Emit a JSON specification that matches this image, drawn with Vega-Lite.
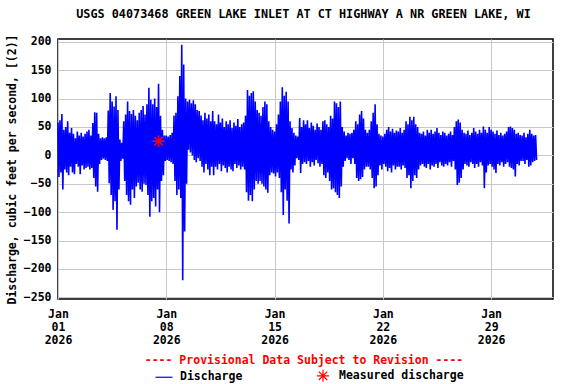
{
"$schema":"https://vega.github.io/schema/vega-lite/v6.json",
"width":495,"height":260,
"autosize":{"type":"none"},
"padding":{"left":58,"top":39,"right":23,"bottom":85},
"background":"white",
"config":{
"font":"DejaVu Sans Mono",
"view":{"stroke":"black","strokeWidth":1.5},
"axis":{"labelFont":"DejaVu Sans Mono","labelFontWeight":"bold","labelFontSize":11.5,"labelColor":"black","titleFont":"DejaVu Sans Mono","titleFontWeight":"bold","titleFontSize":11.5,"titleColor":"black","gridColor":"#c8c8c8","gridWidth":1,"gridOpacity":1,"domain":false,"ticks":false,"labelFlush":false,"labelOverlap":false}
},
"title":{"text":"USGS 04073468 GREEN LAKE INLET AT CT HIGHWAY A NR GREEN LAKE, WI","font":"DejaVu Sans Mono","fontSize":11.8,"fontWeight":"bold","color":"black","anchor":"middle","offset":13,"dx":-2},
"layer":[
{"data":{"values":[
{"t":"2026-01-01T00:00","q":58},{"t":"2026-01-01T01:30","q":-38},{"t":"2026-01-01T03:00","q":62},{"t":"2026-01-01T04:30","q":-30},{"t":"2026-01-01T06:00","q":73},{"t":"2026-01-01T07:30","q":-60},{"t":"2026-01-01T09:00","q":45},{"t":"2026-01-01T10:30","q":-25},{"t":"2026-01-01T12:00","q":50},{"t":"2026-01-01T13:30","q":-30},{"t":"2026-01-01T15:00","q":60},{"t":"2026-01-01T16:30","q":-35},{"t":"2026-01-01T18:00","q":40},{"t":"2026-01-01T19:30","q":-20},{"t":"2026-01-01T21:00","q":48},{"t":"2026-01-01T22:30","q":-30},
{"t":"2026-01-02T00:00","q":38},{"t":"2026-01-02T01:30","q":-33},{"t":"2026-01-02T03:00","q":30},{"t":"2026-01-02T04:30","q":-15},{"t":"2026-01-02T06:00","q":42},{"t":"2026-01-02T07:30","q":-20},{"t":"2026-01-02T09:00","q":35},{"t":"2026-01-02T10:30","q":-33},{"t":"2026-01-02T12:00","q":40},{"t":"2026-01-02T13:30","q":-18},{"t":"2026-01-02T15:00","q":33},{"t":"2026-01-02T16:30","q":-25},{"t":"2026-01-02T18:00","q":38},{"t":"2026-01-02T19:30","q":-22},{"t":"2026-01-02T21:00","q":42},{"t":"2026-01-02T22:30","q":-20},
{"t":"2026-01-03T00:00","q":45},{"t":"2026-01-03T01:30","q":-25},{"t":"2026-01-03T03:00","q":35},{"t":"2026-01-03T04:30","q":-22},{"t":"2026-01-03T06:00","q":57},{"t":"2026-01-03T07:30","q":-40},{"t":"2026-01-03T09:00","q":76},{"t":"2026-01-03T10:30","q":-55},{"t":"2026-01-03T12:00","q":75},{"t":"2026-01-03T13:30","q":-64},{"t":"2026-01-03T15:00","q":38},{"t":"2026-01-03T16:30","q":-15},{"t":"2026-01-03T18:00","q":30},{"t":"2026-01-03T19:30","q":-8},{"t":"2026-01-03T21:00","q":32},{"t":"2026-01-03T22:30","q":-6},
{"t":"2026-01-04T00:00","q":30},{"t":"2026-01-04T01:30","q":-8},{"t":"2026-01-04T03:00","q":32},{"t":"2026-01-04T04:30","q":-10},{"t":"2026-01-04T06:00","q":79},{"t":"2026-01-04T07:30","q":-49},{"t":"2026-01-04T09:00","q":110},{"t":"2026-01-04T10:30","q":-70},{"t":"2026-01-04T12:00","q":95},{"t":"2026-01-04T13:30","q":-96},{"t":"2026-01-04T15:00","q":86},{"t":"2026-01-04T16:30","q":-81},{"t":"2026-01-04T18:00","q":104},{"t":"2026-01-04T19:30","q":-131},{"t":"2026-01-04T21:00","q":80},{"t":"2026-01-04T22:30","q":-60},
{"t":"2026-01-05T00:00","q":28},{"t":"2026-01-05T01:30","q":-10},{"t":"2026-01-05T03:00","q":22},{"t":"2026-01-05T04:30","q":-6},{"t":"2026-01-05T06:00","q":60},{"t":"2026-01-05T07:30","q":-45},{"t":"2026-01-05T09:00","q":72},{"t":"2026-01-05T10:30","q":-70},{"t":"2026-01-05T12:00","q":95},{"t":"2026-01-05T13:30","q":-81},{"t":"2026-01-05T15:00","q":78},{"t":"2026-01-05T16:30","q":-87},{"t":"2026-01-05T18:00","q":73},{"t":"2026-01-05T19:30","q":-60},{"t":"2026-01-05T21:00","q":80},{"t":"2026-01-05T22:30","q":-75},
{"t":"2026-01-06T00:00","q":70},{"t":"2026-01-06T01:30","q":-55},{"t":"2026-01-06T03:00","q":62},{"t":"2026-01-06T04:30","q":-48},{"t":"2026-01-06T06:00","q":75},{"t":"2026-01-06T07:30","q":-60},{"t":"2026-01-06T09:00","q":80},{"t":"2026-01-06T10:30","q":-64},{"t":"2026-01-06T12:00","q":87},{"t":"2026-01-06T13:30","q":-50},{"t":"2026-01-06T15:00","q":72},{"t":"2026-01-06T16:30","q":-52},{"t":"2026-01-06T18:00","q":90},{"t":"2026-01-06T19:30","q":-70},{"t":"2026-01-06T21:00","q":119},{"t":"2026-01-06T22:30","q":-108},
{"t":"2026-01-07T00:00","q":98},{"t":"2026-01-07T01:30","q":-81},{"t":"2026-01-07T03:00","q":90},{"t":"2026-01-07T04:30","q":-75},{"t":"2026-01-07T06:00","q":100},{"t":"2026-01-07T07:30","q":-90},{"t":"2026-01-07T09:00","q":85},{"t":"2026-01-07T10:30","q":-60},{"t":"2026-01-07T12:00","q":126},{"t":"2026-01-07T13:30","q":-100},{"t":"2026-01-07T15:00","q":70},{"t":"2026-01-07T16:30","q":-45},{"t":"2026-01-07T18:00","q":45},{"t":"2026-01-07T19:30","q":-35},{"t":"2026-01-07T21:00","q":35},{"t":"2026-01-07T22:30","q":-10},
{"t":"2026-01-08T00:00","q":35},{"t":"2026-01-08T01:30","q":-8},{"t":"2026-01-08T03:00","q":33},{"t":"2026-01-08T04:30","q":-10},{"t":"2026-01-08T06:00","q":36},{"t":"2026-01-08T07:30","q":-12},{"t":"2026-01-08T09:00","q":40},{"t":"2026-01-08T10:30","q":-15},{"t":"2026-01-08T12:00","q":70},{"t":"2026-01-08T13:30","q":-45},{"t":"2026-01-08T15:00","q":75},{"t":"2026-01-08T16:30","q":-70},{"t":"2026-01-08T18:00","q":104},{"t":"2026-01-08T19:30","q":-60},{"t":"2026-01-08T21:00","q":140},{"t":"2026-01-08T22:30","q":-75},
{"t":"2026-01-09T00:00","q":195},{"t":"2026-01-09T01:30","q":-220},{"t":"2026-01-09T03:00","q":160},{"t":"2026-01-09T04:30","q":-134},{"t":"2026-01-09T06:00","q":100},{"t":"2026-01-09T07:30","q":-50},{"t":"2026-01-09T09:00","q":95},{"t":"2026-01-09T10:30","q":10},{"t":"2026-01-09T12:00","q":98},{"t":"2026-01-09T13:30","q":5},{"t":"2026-01-09T15:00","q":92},{"t":"2026-01-09T16:30","q":0},{"t":"2026-01-09T18:00","q":97},{"t":"2026-01-09T19:30","q":-8},{"t":"2026-01-09T21:00","q":90},{"t":"2026-01-09T22:30","q":-12},
{"t":"2026-01-10T00:00","q":80},{"t":"2026-01-10T01:30","q":-5},{"t":"2026-01-10T03:00","q":78},{"t":"2026-01-10T04:30","q":-10},{"t":"2026-01-10T06:00","q":70},{"t":"2026-01-10T07:30","q":-20},{"t":"2026-01-10T09:00","q":62},{"t":"2026-01-10T10:30","q":-30},{"t":"2026-01-10T12:00","q":75},{"t":"2026-01-10T13:30","q":-15},{"t":"2026-01-10T15:00","q":65},{"t":"2026-01-10T16:30","q":-25},{"t":"2026-01-10T18:00","q":72},{"t":"2026-01-10T19:30","q":-35},{"t":"2026-01-10T21:00","q":60},{"t":"2026-01-10T22:30","q":-20},
{"t":"2026-01-11T00:00","q":78},{"t":"2026-01-11T01:30","q":-35},{"t":"2026-01-11T03:00","q":60},{"t":"2026-01-11T04:30","q":-20},{"t":"2026-01-11T06:00","q":55},{"t":"2026-01-11T07:30","q":-25},{"t":"2026-01-11T09:00","q":72},{"t":"2026-01-11T10:30","q":-15},{"t":"2026-01-11T12:00","q":58},{"t":"2026-01-11T13:30","q":-28},{"t":"2026-01-11T15:00","q":65},{"t":"2026-01-11T16:30","q":-18},{"t":"2026-01-11T18:00","q":50},{"t":"2026-01-11T19:30","q":-22},{"t":"2026-01-11T21:00","q":60},{"t":"2026-01-11T22:30","q":-30},
{"t":"2026-01-12T00:00","q":55},{"t":"2026-01-12T01:30","q":-20},{"t":"2026-01-12T03:00","q":62},{"t":"2026-01-12T04:30","q":-25},{"t":"2026-01-12T06:00","q":48},{"t":"2026-01-12T07:30","q":-28},{"t":"2026-01-12T09:00","q":58},{"t":"2026-01-12T10:30","q":-15},{"t":"2026-01-12T12:00","q":52},{"t":"2026-01-12T13:30","q":-22},{"t":"2026-01-12T15:00","q":64},{"t":"2026-01-12T16:30","q":-18},{"t":"2026-01-12T18:00","q":50},{"t":"2026-01-12T19:30","q":-25},{"t":"2026-01-12T21:00","q":55},{"t":"2026-01-12T22:30","q":-20},
{"t":"2026-01-13T00:00","q":58},{"t":"2026-01-13T01:30","q":-25},{"t":"2026-01-13T03:00","q":70},{"t":"2026-01-13T04:30","q":-65},{"t":"2026-01-13T06:00","q":115},{"t":"2026-01-13T07:30","q":-80},{"t":"2026-01-13T09:00","q":105},{"t":"2026-01-13T10:30","q":-70},{"t":"2026-01-13T12:00","q":110},{"t":"2026-01-13T13:30","q":-81},{"t":"2026-01-13T15:00","q":113},{"t":"2026-01-13T16:30","q":-60},{"t":"2026-01-13T18:00","q":95},{"t":"2026-01-13T19:30","q":-45},{"t":"2026-01-13T21:00","q":80},{"t":"2026-01-13T22:30","q":-50},
{"t":"2026-01-14T00:00","q":75},{"t":"2026-01-14T01:30","q":-45},{"t":"2026-01-14T03:00","q":70},{"t":"2026-01-14T04:30","q":-50},{"t":"2026-01-14T06:00","q":85},{"t":"2026-01-14T07:30","q":-55},{"t":"2026-01-14T09:00","q":95},{"t":"2026-01-14T10:30","q":-60},{"t":"2026-01-14T12:00","q":90},{"t":"2026-01-14T13:30","q":-66},{"t":"2026-01-14T15:00","q":60},{"t":"2026-01-14T16:30","q":-35},{"t":"2026-01-14T18:00","q":50},{"t":"2026-01-14T19:30","q":-30},{"t":"2026-01-14T21:00","q":45},{"t":"2026-01-14T22:30","q":-32},
{"t":"2026-01-15T00:00","q":42},{"t":"2026-01-15T01:30","q":-37},{"t":"2026-01-15T03:00","q":55},{"t":"2026-01-15T04:30","q":-30},{"t":"2026-01-15T06:00","q":72},{"t":"2026-01-15T07:30","q":-40},{"t":"2026-01-15T09:00","q":95},{"t":"2026-01-15T10:30","q":-65},{"t":"2026-01-15T12:00","q":120},{"t":"2026-01-15T13:30","q":-105},{"t":"2026-01-15T15:00","q":105},{"t":"2026-01-15T16:30","q":-60},{"t":"2026-01-15T18:00","q":112},{"t":"2026-01-15T19:30","q":-80},{"t":"2026-01-15T21:00","q":95},{"t":"2026-01-15T22:30","q":-120},
{"t":"2026-01-16T00:00","q":60},{"t":"2026-01-16T01:30","q":-25},{"t":"2026-01-16T03:00","q":48},{"t":"2026-01-16T04:30","q":-30},{"t":"2026-01-16T06:00","q":40},{"t":"2026-01-16T07:30","q":-18},{"t":"2026-01-16T09:00","q":35},{"t":"2026-01-16T10:30","q":-5},{"t":"2026-01-16T12:00","q":33},{"t":"2026-01-16T13:30","q":-8},{"t":"2026-01-16T15:00","q":66},{"t":"2026-01-16T16:30","q":-31},{"t":"2026-01-16T18:00","q":50},{"t":"2026-01-16T19:30","q":-15},{"t":"2026-01-16T21:00","q":62},{"t":"2026-01-16T22:30","q":-12},
{"t":"2026-01-17T00:00","q":55},{"t":"2026-01-17T01:30","q":-15},{"t":"2026-01-17T03:00","q":62},{"t":"2026-01-17T04:30","q":-10},{"t":"2026-01-17T06:00","q":48},{"t":"2026-01-17T07:30","q":-20},{"t":"2026-01-17T09:00","q":58},{"t":"2026-01-17T10:30","q":-12},{"t":"2026-01-17T12:00","q":52},{"t":"2026-01-17T13:30","q":-18},{"t":"2026-01-17T15:00","q":45},{"t":"2026-01-17T16:30","q":-8},{"t":"2026-01-17T18:00","q":56},{"t":"2026-01-17T19:30","q":-14},{"t":"2026-01-17T21:00","q":50},{"t":"2026-01-17T22:30","q":-20},
{"t":"2026-01-18T00:00","q":45},{"t":"2026-01-18T01:30","q":-15},{"t":"2026-01-18T03:00","q":60},{"t":"2026-01-18T04:30","q":-35},{"t":"2026-01-18T06:00","q":62},{"t":"2026-01-18T07:30","q":-40},{"t":"2026-01-18T09:00","q":55},{"t":"2026-01-18T10:30","q":-30},{"t":"2026-01-18T12:00","q":50},{"t":"2026-01-18T13:30","q":-45},{"t":"2026-01-18T15:00","q":70},{"t":"2026-01-18T16:30","q":-60},{"t":"2026-01-18T18:00","q":65},{"t":"2026-01-18T19:30","q":-58},{"t":"2026-01-18T21:00","q":95},{"t":"2026-01-18T22:30","q":-65},
{"t":"2026-01-19T00:00","q":92},{"t":"2026-01-19T01:30","q":-70},{"t":"2026-01-19T03:00","q":85},{"t":"2026-01-19T04:30","q":-75},{"t":"2026-01-19T06:00","q":95},{"t":"2026-01-19T07:30","q":-55},{"t":"2026-01-19T09:00","q":50},{"t":"2026-01-19T10:30","q":-20},{"t":"2026-01-19T12:00","q":42},{"t":"2026-01-19T13:30","q":-10},{"t":"2026-01-19T15:00","q":35},{"t":"2026-01-19T16:30","q":-5},{"t":"2026-01-19T18:00","q":40},{"t":"2026-01-19T19:30","q":-8},{"t":"2026-01-19T21:00","q":38},{"t":"2026-01-19T22:30","q":-15},
{"t":"2026-01-20T00:00","q":40},{"t":"2026-01-20T01:30","q":-5},{"t":"2026-01-20T03:00","q":45},{"t":"2026-01-20T04:30","q":-15},{"t":"2026-01-20T06:00","q":60},{"t":"2026-01-20T07:30","q":-40},{"t":"2026-01-20T09:00","q":55},{"t":"2026-01-20T10:30","q":-45},{"t":"2026-01-20T12:00","q":72},{"t":"2026-01-20T13:30","q":-42},{"t":"2026-01-20T15:00","q":78},{"t":"2026-01-20T16:30","q":-38},{"t":"2026-01-20T18:00","q":65},{"t":"2026-01-20T19:30","q":-25},{"t":"2026-01-20T21:00","q":45},{"t":"2026-01-20T22:30","q":-20},
{"t":"2026-01-21T00:00","q":40},{"t":"2026-01-21T01:30","q":-20},{"t":"2026-01-21T03:00","q":45},{"t":"2026-01-21T04:30","q":-25},{"t":"2026-01-21T06:00","q":60},{"t":"2026-01-21T07:30","q":-40},{"t":"2026-01-21T09:00","q":75},{"t":"2026-01-21T10:30","q":-58},{"t":"2026-01-21T12:00","q":90},{"t":"2026-01-21T13:30","q":-55},{"t":"2026-01-21T15:00","q":55},{"t":"2026-01-21T16:30","q":-35},{"t":"2026-01-21T18:00","q":38},{"t":"2026-01-21T19:30","q":-18},{"t":"2026-01-21T21:00","q":35},{"t":"2026-01-21T22:30","q":-25},
{"t":"2026-01-22T00:00","q":33},{"t":"2026-01-22T01:30","q":-15},{"t":"2026-01-22T03:00","q":38},{"t":"2026-01-22T04:30","q":-20},{"t":"2026-01-22T06:00","q":45},{"t":"2026-01-22T07:30","q":-28},{"t":"2026-01-22T09:00","q":50},{"t":"2026-01-22T10:30","q":-22},{"t":"2026-01-22T12:00","q":42},{"t":"2026-01-22T13:30","q":-30},{"t":"2026-01-22T15:00","q":47},{"t":"2026-01-22T16:30","q":-18},{"t":"2026-01-22T18:00","q":40},{"t":"2026-01-22T19:30","q":-25},{"t":"2026-01-22T21:00","q":44},{"t":"2026-01-22T22:30","q":-20},
{"t":"2026-01-23T00:00","q":42},{"t":"2026-01-23T01:30","q":-20},{"t":"2026-01-23T03:00","q":48},{"t":"2026-01-23T04:30","q":-25},{"t":"2026-01-23T06:00","q":40},{"t":"2026-01-23T07:30","q":-18},{"t":"2026-01-23T09:00","q":45},{"t":"2026-01-23T10:30","q":-22},{"t":"2026-01-23T12:00","q":60},{"t":"2026-01-23T13:30","q":-40},{"t":"2026-01-23T15:00","q":55},{"t":"2026-01-23T16:30","q":-35},{"t":"2026-01-23T18:00","q":68},{"t":"2026-01-23T19:30","q":-58},{"t":"2026-01-23T21:00","q":62},{"t":"2026-01-23T22:30","q":-45},
{"t":"2026-01-24T00:00","q":68},{"t":"2026-01-24T01:30","q":-35},{"t":"2026-01-24T03:00","q":55},{"t":"2026-01-24T04:30","q":-40},{"t":"2026-01-24T06:00","q":50},{"t":"2026-01-24T07:30","q":-25},{"t":"2026-01-24T09:00","q":40},{"t":"2026-01-24T10:30","q":-18},{"t":"2026-01-24T12:00","q":38},{"t":"2026-01-24T13:30","q":-15},{"t":"2026-01-24T15:00","q":42},{"t":"2026-01-24T16:30","q":-20},{"t":"2026-01-24T18:00","q":35},{"t":"2026-01-24T19:30","q":-22},{"t":"2026-01-24T21:00","q":45},{"t":"2026-01-24T22:30","q":-15},
{"t":"2026-01-25T00:00","q":40},{"t":"2026-01-25T01:30","q":-25},{"t":"2026-01-25T03:00","q":45},{"t":"2026-01-25T04:30","q":-18},{"t":"2026-01-25T06:00","q":38},{"t":"2026-01-25T07:30","q":-20},{"t":"2026-01-25T09:00","q":42},{"t":"2026-01-25T10:30","q":-15},{"t":"2026-01-25T12:00","q":48},{"t":"2026-01-25T13:30","q":-22},{"t":"2026-01-25T15:00","q":40},{"t":"2026-01-25T16:30","q":-12},{"t":"2026-01-25T18:00","q":36},{"t":"2026-01-25T19:30","q":-18},{"t":"2026-01-25T21:00","q":42},{"t":"2026-01-25T22:30","q":-20},
{"t":"2026-01-26T00:00","q":40},{"t":"2026-01-26T01:30","q":-15},{"t":"2026-01-26T03:00","q":35},{"t":"2026-01-26T04:30","q":-18},{"t":"2026-01-26T06:00","q":38},{"t":"2026-01-26T07:30","q":-12},{"t":"2026-01-26T09:00","q":42},{"t":"2026-01-26T10:30","q":-20},{"t":"2026-01-26T12:00","q":36},{"t":"2026-01-26T13:30","q":-10},{"t":"2026-01-26T15:00","q":50},{"t":"2026-01-26T16:30","q":-25},{"t":"2026-01-26T18:00","q":60},{"t":"2026-01-26T19:30","q":-52},{"t":"2026-01-26T21:00","q":63},{"t":"2026-01-26T22:30","q":-48},
{"t":"2026-01-27T00:00","q":58},{"t":"2026-01-27T01:30","q":-40},{"t":"2026-01-27T03:00","q":45},{"t":"2026-01-27T04:30","q":-25},{"t":"2026-01-27T06:00","q":40},{"t":"2026-01-27T07:30","q":-15},{"t":"2026-01-27T09:00","q":38},{"t":"2026-01-27T10:30","q":-18},{"t":"2026-01-27T12:00","q":44},{"t":"2026-01-27T13:30","q":-20},{"t":"2026-01-27T15:00","q":36},{"t":"2026-01-27T16:30","q":-12},{"t":"2026-01-27T18:00","q":40},{"t":"2026-01-27T19:30","q":-15},{"t":"2026-01-27T21:00","q":48},{"t":"2026-01-27T22:30","q":-22},
{"t":"2026-01-28T00:00","q":42},{"t":"2026-01-28T01:30","q":-15},{"t":"2026-01-28T03:00","q":38},{"t":"2026-01-28T04:30","q":-20},{"t":"2026-01-28T06:00","q":45},{"t":"2026-01-28T07:30","q":-12},{"t":"2026-01-28T09:00","q":40},{"t":"2026-01-28T10:30","q":-18},{"t":"2026-01-28T12:00","q":51},{"t":"2026-01-28T13:30","q":-58},{"t":"2026-01-28T15:00","q":45},{"t":"2026-01-28T16:30","q":-30},{"t":"2026-01-28T18:00","q":40},{"t":"2026-01-28T19:30","q":-18},{"t":"2026-01-28T21:00","q":50},{"t":"2026-01-28T22:30","q":-15},
{"t":"2026-01-29T00:00","q":45},{"t":"2026-01-29T01:30","q":-20},{"t":"2026-01-29T03:00","q":42},{"t":"2026-01-29T04:30","q":-25},{"t":"2026-01-29T06:00","q":38},{"t":"2026-01-29T07:30","q":-31},{"t":"2026-01-29T09:00","q":44},{"t":"2026-01-29T10:30","q":-15},{"t":"2026-01-29T12:00","q":36},{"t":"2026-01-29T13:30","q":-18},{"t":"2026-01-29T15:00","q":40},{"t":"2026-01-29T16:30","q":-12},{"t":"2026-01-29T18:00","q":35},{"t":"2026-01-29T19:30","q":-20},{"t":"2026-01-29T21:00","q":38},{"t":"2026-01-29T22:30","q":-15},
{"t":"2026-01-30T00:00","q":42},{"t":"2026-01-30T01:30","q":-12},{"t":"2026-01-30T03:00","q":50},{"t":"2026-01-30T04:30","q":-20},{"t":"2026-01-30T06:00","q":51},{"t":"2026-01-30T07:30","q":-22},{"t":"2026-01-30T09:00","q":48},{"t":"2026-01-30T10:30","q":-25},{"t":"2026-01-30T12:00","q":45},{"t":"2026-01-30T13:30","q":-37},{"t":"2026-01-30T15:00","q":38},{"t":"2026-01-30T16:30","q":-15},{"t":"2026-01-30T18:00","q":40},{"t":"2026-01-30T19:30","q":-18},{"t":"2026-01-30T21:00","q":36},{"t":"2026-01-30T22:30","q":-10},
{"t":"2026-01-31T00:00","q":35},{"t":"2026-01-31T01:30","q":-10},{"t":"2026-01-31T03:00","q":40},{"t":"2026-01-31T04:30","q":-15},{"t":"2026-01-31T06:00","q":32},{"t":"2026-01-31T07:30","q":-8},{"t":"2026-01-31T09:00","q":38},{"t":"2026-01-31T10:30","q":-20},{"t":"2026-01-31T12:00","q":45},{"t":"2026-01-31T13:30","q":-18},{"t":"2026-01-31T15:00","q":38},{"t":"2026-01-31T16:30","q":-12},{"t":"2026-01-31T18:00","q":35},{"t":"2026-01-31T19:30","q":-10},{"t":"2026-01-31T21:00","q":36},{"t":"2026-01-31T22:30","q":-8}
]},
"mark":{"type":"line","strokeWidth":1.6,"strokeJoin":"miter"},
"encoding":{
"x":{"field":"t","type":"temporal","scale":{"domain":[{"year":2026,"month":1,"date":1},{"year":2026,"month":2,"date":2}]},
"axis":{"title":null,"values":[{"year":2026,"month":1,"date":1},{"year":2026,"month":1,"date":8},{"year":2026,"month":1,"date":15},{"year":2026,"month":1,"date":22},{"year":2026,"month":1,"date":29}],"tickCount":20,"labelExpr":"[timeFormat(datum.value,'%b'),timeFormat(datum.value,'%d'),timeFormat(datum.value,'%Y')]","labelLineHeight":13,"labelPadding":9,"labelBaseline":"top","labelOverlap":false}},
"y":{"field":"q","type":"quantitative","scale":{"domain":[-253,205],"nice":false,"zero":false},
"axis":{"title":"Discharge, cubic feet per second, [(2)]","values":[-250,-200,-150,-100,-50,0,50,100,150,200],"tickCount":20,"labelPadding":7,"titlePadding":6,"labelOverlap":false}},
"color":{"datum":"Discharge","type":"nominal","scale":{"domain":["Discharge","Measured discharge"],"range":["#0000ff","#ff0000"]},
"legend":{"orient":"none","legendX":87,"legendY":316,"direction":"horizontal","title":"---- Provisional Data Subject to Revision ----","titleLimit":600,"titleColor":"#ff0000","titleFont":"DejaVu Sans Mono","titleFontWeight":"bold","titleFontSize":11.5,"titleOrient":"top","titleAnchor":"middle","titlePadding":2,"labelFont":"DejaVu Sans Mono","labelFontWeight":"bold","labelFontSize":11.5,"labelColor":"black","labelOffset":9,"columnPadding":71,"symbolStrokeWidth":1,
"encode":{"title":{"update":{"dx":{"value":-6}}},"symbols":{"update":{"shape":{"signal":"datum.value === 'Discharge' ? 'stroke' : 'M-1,0L1,0M0,-1L0,1M-0.7,-0.7L0.7,0.7M-0.7,0.7L0.7,-0.7'"},"size":{"signal":"datum.value === 'Discharge' ? 289 : 144"},"stroke":{"signal":"datum.value === 'Discharge' ? '#0000ff' : '#ff0000'"},"fill":{"value":"transparent"},"strokeWidth":{"value":1.2}}}}}}
}},
{"data":{"values":[{"t":"2026-01-07T12:00","q":25}]},
"mark":{"type":"point","shape":"M-1,0L1,0M0,-1L0,1M-0.7,-0.7L0.7,0.7M-0.7,0.7L0.7,-0.7","size":144,"filled":false,"strokeWidth":1.5,"opacity":1},
"encoding":{"x":{"field":"t","type":"temporal"},"y":{"field":"q","type":"quantitative"},"color":{"datum":"Measured discharge","type":"nominal"}}}
]
}
